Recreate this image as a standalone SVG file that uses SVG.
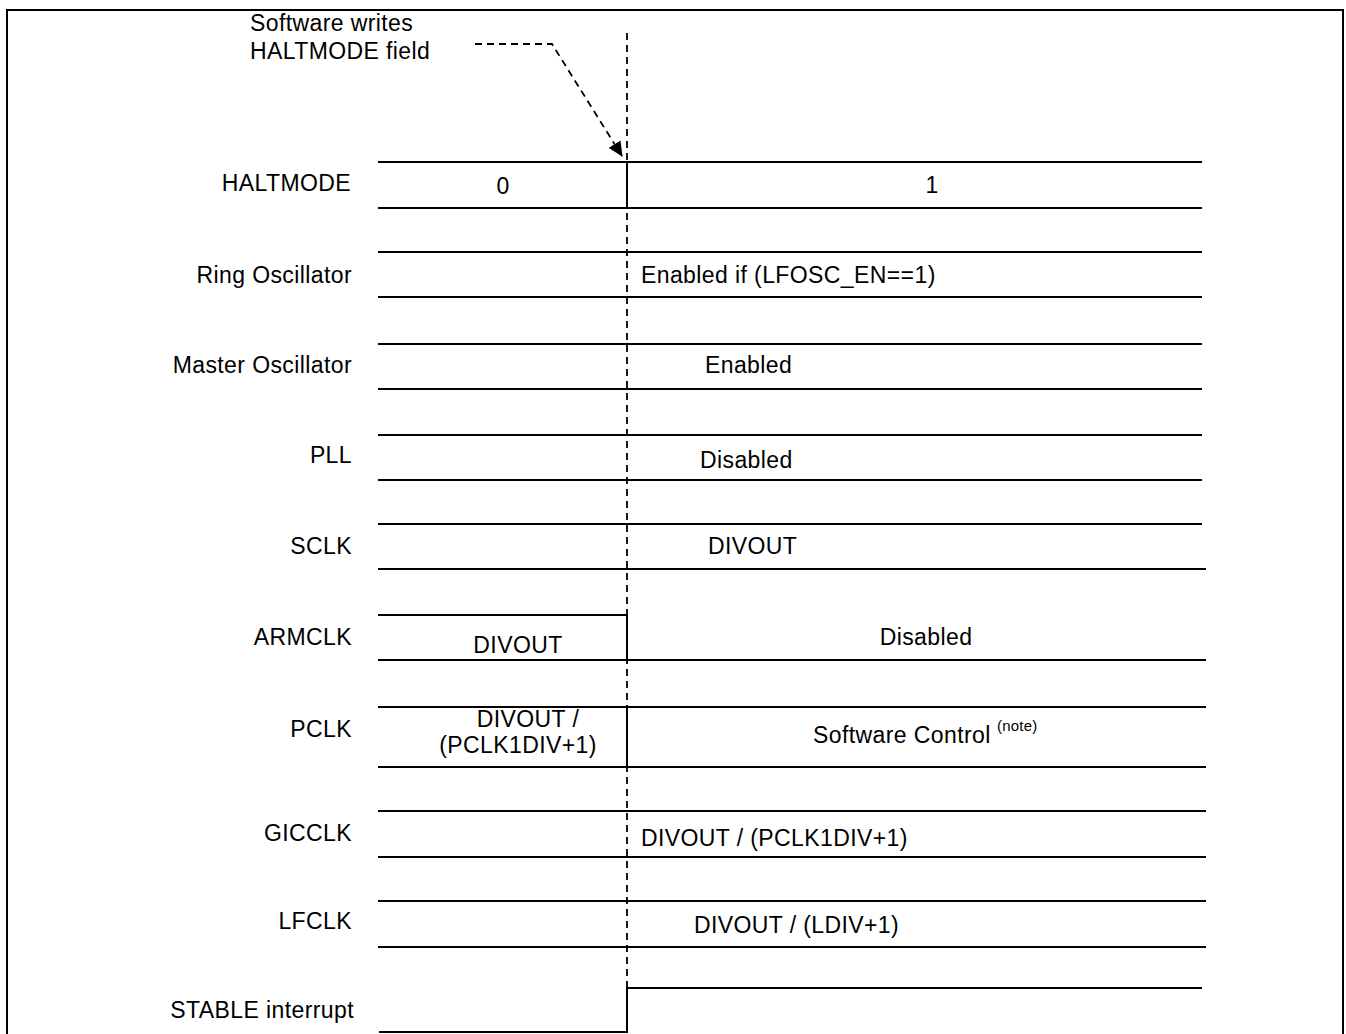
<svg xmlns="http://www.w3.org/2000/svg" width="1346" height="1034" viewBox="0 0 1346 1034">
<style>
.t{font-family:"Liberation Sans",Arial,sans-serif;font-size:23px;letter-spacing:0.4px;fill:#000}
.l{text-anchor:end}
.m{text-anchor:middle}
.n{font-size:15px;letter-spacing:0.2px}
.s{fill:none;stroke:#000;stroke-width:2}
.d{fill:none;stroke:#000;stroke-width:1.8;stroke-dasharray:7 5}
</style>
<defs>
<marker id="ah" markerWidth="15" markerHeight="14" refX="14" refY="7" orient="auto" markerUnits="userSpaceOnUse">
<path d="M0,0 L15,7 L0,14 z" fill="#000"/>
</marker>
</defs>
<rect width="1346" height="1034" fill="#fff"/>
<path class="s" d="M7,1034 V10 H1343 V1034" stroke-width="2.5"/>
<g id="annotation">
<text class="t" x="250" y="31">Software writes</text>
<text class="t" x="250" y="59">HALTMODE field</text>
</g>
<g id="connectors">
<path class="d" d="M475,44 H552 L622,156" marker-end="url(#ah)"/>
<line class="d" x1="627" y1="33" x2="627" y2="988"/>
</g>
<g id="haltmode">
<text class="t l" x="351" y="191">HALTMODE</text>
<path class="s" d="M378,162 H1202 M378,208 H1202 M627,162 V208"/>
<text class="t m" x="503" y="194">0</text>
<text class="t m" x="932" y="193">1</text>
</g>
<g id="ring">
<text class="t l" x="352" y="283">Ring Oscillator</text>
<path class="s" d="M378,252 H1202 M378,297 H1202"/>
<text class="t" x="641" y="283">Enabled if (LFOSC_EN==1)</text>
</g>
<g id="master">
<text class="t l" x="352" y="373">Master Oscillator</text>
<path class="s" d="M378,344 H1202 M378,389 H1202"/>
<text class="t" x="705" y="373">Enabled</text>
</g>
<g id="pll">
<text class="t l" x="352" y="463">PLL</text>
<path class="s" d="M378,435 H1202 M378,480 H1202"/>
<text class="t" x="700" y="468">Disabled</text>
</g>
<g id="sclk">
<text class="t l" x="352" y="554">SCLK</text>
<path class="s" d="M378,524 H1202 M378,569 H1206"/>
<text class="t" x="708" y="554">DIVOUT</text>
</g>
<g id="armclk">
<text class="t l" x="352" y="645">ARMCLK</text>
<path class="s" d="M378,615 H627 V660 M378,660 H1206"/>
<text class="t m" x="518" y="653">DIVOUT</text>
<text class="t m" x="926" y="645">Disabled</text>
</g>
<g id="pclk">
<text class="t l" x="352" y="737">PCLK</text>
<path class="s" d="M378,707 H1206 M378,767 H1206 M627,707 V767"/>
<text class="t m" x="528" y="727">DIVOUT /</text>
<text class="t m" x="518" y="753">(PCLK1DIV+1)</text>
<text class="t" x="813" y="743">Software Control</text>
<text class="t n" x="997" y="731">(note)</text>
</g>
<g id="gicclk">
<text class="t l" x="352" y="841">GICCLK</text>
<path class="s" d="M378,811 H1206 M378,857 H1206"/>
<text class="t" x="641" y="846">DIVOUT / (PCLK1DIV+1)</text>
</g>
<g id="lfclk">
<text class="t l" x="352" y="929">LFCLK</text>
<path class="s" d="M378,901 H1206 M378,947 H1206"/>
<text class="t" x="694" y="933">DIVOUT / (LDIV+1)</text>
</g>
<g id="stable">
<text class="t l" x="354" y="1018">STABLE interrupt</text>
<path class="s" d="M379,1032 H627 V988 H1202"/>
</g>
</svg>
